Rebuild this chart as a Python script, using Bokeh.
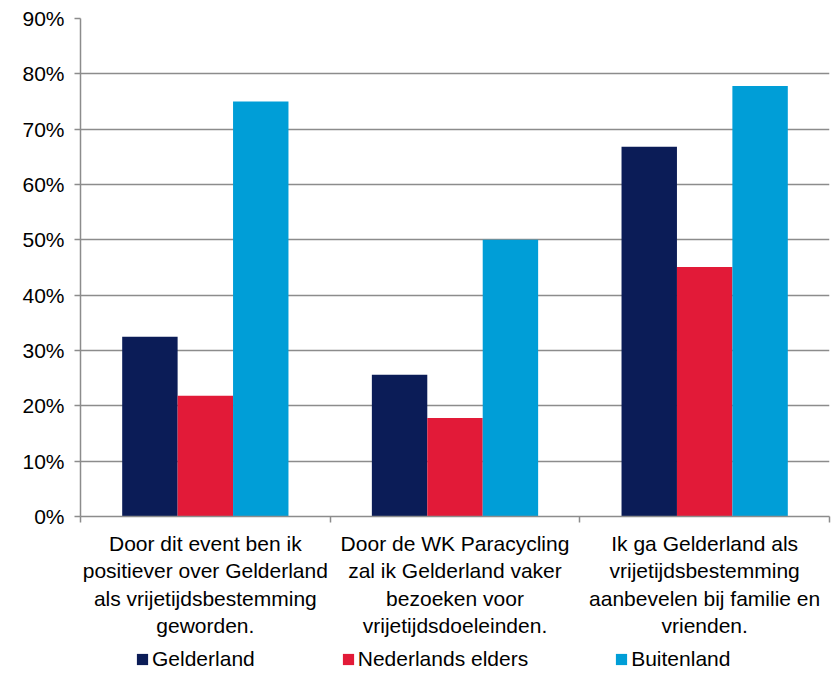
from bokeh.plotting import figure
from bokeh.layouts import column
from bokeh.models import (ColumnDataSource, FixedTicker, NumeralTickFormatter,
                          Legend, LegendItem, Range1d)
from bokeh.embed import file_html
from bokeh.resources import INLINE

categories = [
    "Door dit event ben ik\npositiever over Gelderland\nals vrijetijdsbestemming\ngeworden.",
    "Door de WK Paracycling\nzal ik Gelderland vaker\nbezoeken voor\nvrijetijdsdoeleinden.",
    "Ik ga Gelderland als\nvrijetijdsbestemming\naanbevelen bij familie en\nvrienden.",
]
series_names = ["Gelderland", "Nederlands elders", "Buitenland"]
gelderland = [0.325, 0.256, 0.668]
nederlands_elders = [0.218, 0.178, 0.451]
buitenland = [0.750, 0.500, 0.778]
y_ticks = [0.0, 0.1, 0.2, 0.3, 0.4, 0.5, 0.6, 0.7, 0.8, 0.9]

colors = ["#0B1C57", "#E21A38", "#009ED7"]
series = [gelderland, nederlands_elders, buitenland]

FONT = "Liberation Sans"
FS = "21px"
GRID = "#8C8C8C"

p = figure(width=831, height=640, output_backend="svg", toolbar_location=None,
           x_range=Range1d(0, 3), y_range=Range1d(0, 0.9),
           min_border_left=80, min_border_right=2, min_border_top=18,
           min_border_bottom=124)
p.outline_line_color = None
p.background_fill_color = "white"
p.border_fill_color = "white"

bar_w = 0.222
offsets = [-bar_w, 0.0, bar_w]
sources = []
for name, vals, col, off in zip(series_names, series, colors, offsets):
    src = ColumnDataSource(dict(x=[i + 0.5 + off for i in range(len(vals))], top=vals))
    sources.append(src)
    p.vbar(x="x", top="top", width=bar_w, source=src, fill_color=col, line_color=None)

# y axis
p.yaxis.ticker = FixedTicker(ticks=y_ticks)
p.yaxis.formatter = NumeralTickFormatter(format="0%")
p.yaxis.axis_line_color = GRID
p.yaxis.axis_line_width = 1.5
p.yaxis.major_tick_line_color = GRID
p.yaxis.major_tick_line_width = 1.5
p.yaxis.major_tick_out = 6
p.yaxis.major_tick_in = 0
p.yaxis.minor_tick_line_color = None
p.yaxis.major_label_text_font = FONT
p.yaxis.major_label_text_font_size = FS
p.yaxis.major_label_text_color = "#000000"
p.yaxis.major_label_standoff = 10

# x axis
p.xaxis.ticker = FixedTicker(ticks=[0.5, 1.5, 2.5], minor_ticks=[0, 1, 2, 3])
p.xaxis.major_label_overrides = {0.5: categories[0], 1.5: categories[1], 2.5: categories[2]}
p.xaxis.axis_line_color = GRID
p.xaxis.axis_line_width = 1.5
p.xaxis.major_tick_line_color = None
p.xaxis.major_tick_out = 0
p.xaxis.major_tick_in = 0
p.xaxis.minor_tick_line_color = GRID
p.xaxis.minor_tick_line_width = 1.5
p.xaxis.minor_tick_out = 6
p.xaxis.minor_tick_in = 0
p.xaxis.major_label_text_font = FONT
p.xaxis.major_label_text_font_size = FS
p.xaxis.major_label_text_color = "#000000"
p.xaxis.major_label_standoff = 9

p.xgrid.grid_line_color = None
p.ygrid.ticker = FixedTicker(ticks=y_ticks)
p.ygrid.grid_line_color = GRID
p.ygrid.grid_line_width = 1.5

# legend strip (same series, bars kept out of view so only the legend shows)
lg = figure(width=831, height=31, output_backend="svg", toolbar_location=None,
            x_range=Range1d(0, 3), y_range=Range1d(5, 6),
            x_axis_location=None, y_axis_location=None,
            min_border_left=0, min_border_right=0, min_border_top=0, min_border_bottom=0)
lg.outline_line_color = None
lg.xgrid.grid_line_color = None
lg.ygrid.grid_line_color = None
lg_renderers = []
for src, col in zip(sources, colors):
    r = lg.vbar(x="x", top="top", width=bar_w, source=src, fill_color=col, line_color=None)
    lg_renderers.append(r)

legend = Legend(items=[LegendItem(label=n, renderers=[r]) for n, r in zip(series_names, lg_renderers)],
                orientation="horizontal", location=(55, 0),
                glyph_width=14, glyph_height=14, label_standoff=3, spacing=86,
                padding=0, margin=0, border_line_color=None,
                background_fill_alpha=0, label_text_font=FONT,
                label_text_font_size=FS, label_text_color="#000000",
                label_height=22)
lg.add_layout(legend, "center")

layout = column(p, lg, spacing=0)
open("out.html", "w").write(file_html(layout, INLINE))
